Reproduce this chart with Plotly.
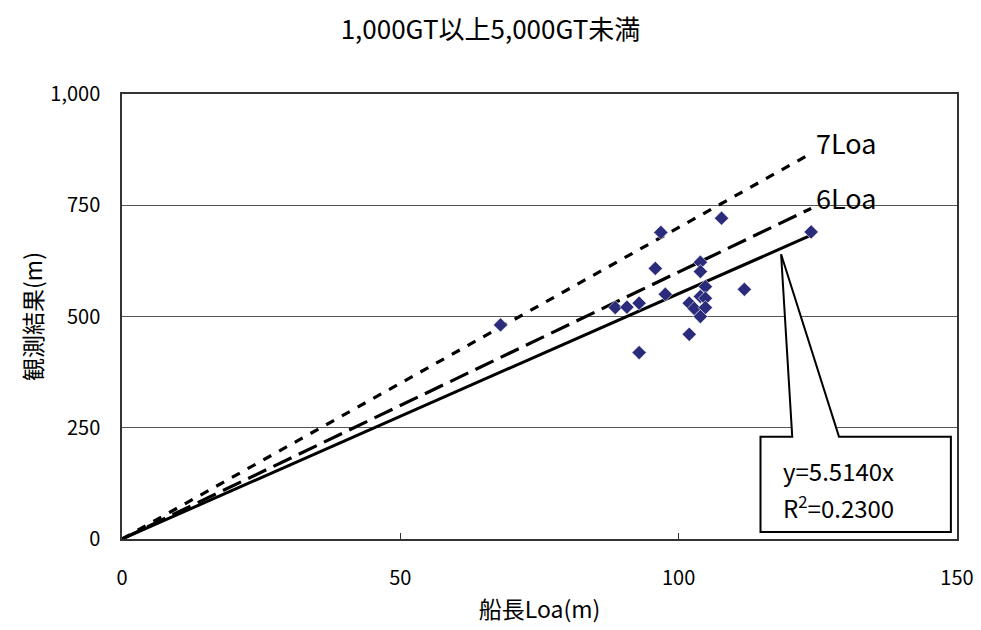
import plotly.graph_objects as go

# Ship length (Loa, m) and observed distance (m) for 1,000–5,000 GT vessels
loa = [68, 96.8, 107.7, 95.8, 103.9, 103.9, 104.8, 111.8, 97.6, 88.6, 90.7,
       92.9, 101.9, 103.9, 104.8, 102.8, 104.8, 103.9, 101.9, 92.9, 123.8]
observed = [481, 689, 721, 608, 622, 601, 567, 561, 550, 520, 521,
            530, 530, 545, 541, 518, 520, 500, 460, 419, 690]

# Regression through the origin
slope = 5.5140
r2 = 0.2300

# Reference lines: multiples of Loa
ref_multiples = [7, 6]
ref_labels = ["7Loa", "6Loa"]

x_tick_vals = [0, 50, 100, 150]
y_tick_vals = [0, 250, 500, 750, 1000]
y_tick_text = ["0", "250", "500", "750", "1,000"]

FONT = "Noto Sans CJK JP"
x_end = max(loa)
line_x = [0, x_end]

fig = go.Figure()

dash_styles = {7: "9px,9px", 6: "20px,8px"}
for m in ref_multiples:
    fig.add_trace(go.Scatter(
        x=line_x, y=[m * v for v in line_x], mode="lines",
        line=dict(color="black", width=3.2, dash=dash_styles[m]),
        hoverinfo="skip", showlegend=False))

fig.add_trace(go.Scatter(
    x=line_x, y=[slope * v for v in line_x], mode="lines",
    line=dict(color="black", width=3), hoverinfo="skip", showlegend=False))

fig.add_trace(go.Scatter(
    x=loa, y=observed, mode="markers",
    marker=dict(symbol="diamond", size=11, color="#2B2B7B",
                line=dict(color="white", width=0.6)),
    showlegend=False))

# Labels at the end of the reference lines
for m, lab in zip(ref_multiples, ref_labels):
    fig.add_annotation(x=x_end + 0.6, y=m * x_end + 25, xref="x", yref="y",
                       text=lab, showarrow=False, xanchor="left", yanchor="middle",
                       font=dict(family=FONT, size=27, color="black"))

# Callout box for the regression equation, pointing at the trend line
bx0, bx1, by0, by1 = 114.7, 148.9, 15.7, 230
tip_x = 118.4
tip_y = slope * tip_x - 13
p0, p1 = 120.4, 128.8
path = (f"M {p0},{by1} L {tip_x},{tip_y} L {p1},{by1} L {bx1},{by1} "
        f"L {bx1},{by0} L {bx0},{by0} L {bx0},{by1} Z")
fig.add_shape(type="path", path=path, xref="x", yref="y",
              line=dict(color="black", width=2), fillcolor="white", layer="above")

fig.add_annotation(x=118.4, y=155, xref="x", yref="y", text=f"y={slope:.4f}x",
                   showarrow=False, xanchor="left", yanchor="middle",
                   font=dict(family=FONT, size=24, color="black"))
fig.add_annotation(x=118.4, y=72, xref="x", yref="y",
                   text=f"R<sup>2</sup>={r2:.4f}",
                   showarrow=False, xanchor="left", yanchor="middle",
                   font=dict(family=FONT, size=24, color="black"))

tick_font = dict(family=FONT, size=20, color="black")

fig.update_layout(
    width=981, height=630,
    margin=dict(l=122, r=24, t=94, b=91, autoexpand=False),
    paper_bgcolor="white", plot_bgcolor="white",
    font=dict(family=FONT, size=20, color="black"),
    title=dict(text="1,000GT以上5,000GT未満", x=0.5, xanchor="center",
               y=1 - 30 / 630, yanchor="middle",
               font=dict(family=FONT, size=26, color="black")),
    xaxis=dict(range=[0, 150], tickvals=x_tick_vals, ticks="inside", ticklen=6,
               tickcolor="#333", tickfont=tick_font, showgrid=False, zeroline=False,
               showline=True, linecolor="#333", linewidth=1.5, mirror=True,
               ticklabelstandoff=20, automargin=False,
               title=dict(text="船長Loa(m)", standoff=12,
                          font=dict(family=FONT, size=23))),
    yaxis=dict(range=[0, 1000], tickvals=y_tick_vals, ticktext=y_tick_text,
               ticks="", tickfont=tick_font, showgrid=True, gridcolor="#555",
               gridwidth=1, zeroline=False, showline=True, linecolor="#333",
               linewidth=1.5, mirror=True, ticklabelstandoff=16, automargin=False,
               title=dict(text="観測結果(m)", standoff=1,
                          font=dict(family=FONT, size=23))),
)

fig.write_html("out.html")
